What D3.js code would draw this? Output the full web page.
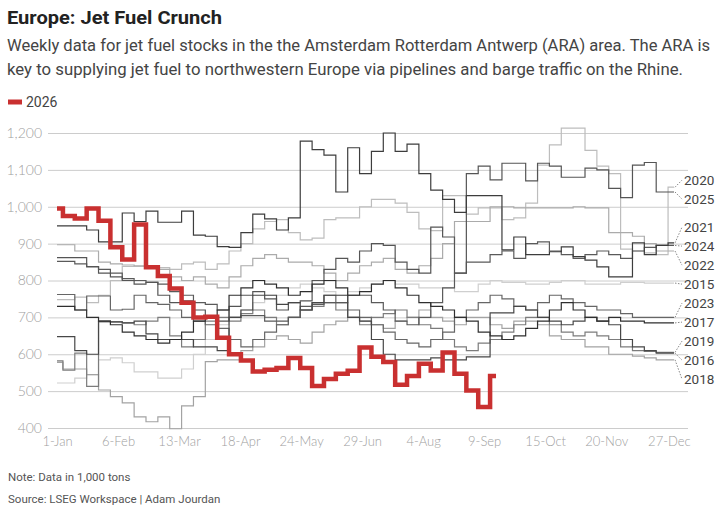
<!DOCTYPE html>
<html>
<head>
<meta charset="utf-8">
<script src="https://cdn.jsdelivr.net/npm/d3@7"></script>
<style>
  body{margin:0;background:#fff;}
  text{font-family:Roboto,"Noto Sans",sans-serif;}
  .tick text{font-family:Lato,"Noto Sans",sans-serif;font-weight:300;}
</style>
</head>
<body>
<svg id="chart" width="728" height="515"></svg>
<script>
"use strict";

// weekly ARA jet fuel stocks, 1,000 tons, one value per week from 1-Jan
const years = ["2015","2016","2017","2018","2019","2020","2021","2022","2023","2024","2025"]
const v2015 = [522,522,535,545,585,590,577,552,552,535,535,560,600,640,680,700,720,740,760,760,780,790,780,770,760,770,780,790,800,790,790,780,780,780,770,770,790,800,795,795,790,790,795,800,800,790,790,790,795,795,793,793,793]
const v2016 = [648,648,610,600,690,688,685,690,655,640,640,640,620,620,610,700,720,760,760,735,740,720,740,760,760,700,690,640,600,585,585,585,590,585,585,593,593,712,712,730,720,700,690,680,690,700,690,680,640,620,610,603,603]
const v2017 = [730,730,720,700,690,680,660,650,640,630,640,660,690,700,720,760,780,800,790,780,760,770,790,800,780,760,770,790,800,780,760,740,730,720,700,690,660,650,640,650,670,690,720,740,720,700,690,700,690,690,685,685,685]
const v2018 = [578,560,560,545,503,485,468,430,417,430,398,460,485,580,585,585,610,620,640,650,640,630,660,680,690,700,690,680,670,690,700,720,700,690,680,700,700,680,670,690,690,680,650,640,640,620,620,600,600,595,590,585,585]
const v2019 = [582,557,603,513,688,688,685,680,690,700,650,620,640,690,700,690,710,720,700,680,700,720,730,740,720,700,680,700,710,720,700,680,670,640,620,610,630,640,660,680,700,700,680,660,650,660,650,640,620,610,608,605,605]
const v2020 = [748,748,755,740,760,800,838,838,838,835,830,845,850,830,845,880,900,940,960,965,930,910,915,965,970,970,1000,1020,1020,1010,985,940,935,1030,1030,980,997,997,965,970,1010,1113,1168,1213,1213,1153,1110,1090,885,880,875,870,1053]
const v2021 = [948,948,948,937,905,905,983,960,988,958,958,988,923,920,892,890,930,980,967,937,970,1178,1155,1140,1040,1160,1090,1150,1200,1150,1170,1090,1045,1020,985,1030,1030,1030,883,918,870,870,878,891,865,855,837,810,810,902,870,895,902]
const v2022 = [897,897,880,880,850,845,842,840,835,830,810,800,810,790,780,810,840,860,870,860,850,850,840,820,800,820,840,850,860,830,820,840,860,900,960,960,960,1000,1000,997,997,997,997,997,1000,997,997,930,930,920,900,880,880]
const v2023 = [762,762,720,758,758,720,722,760,740,735,720,700,690,680,670,640,620,640,660,680,700,720,740,760,740,720,700,680,660,640,630,620,640,660,700,720,740,760,750,730,720,740,760,750,740,730,720,720,710,700,700,700,700]
const v2024 = [852,852,845,838,830,820,805,800,795,790,770,760,740,735,720,700,705,705,690,690,700,730,735,740,740,760,760,740,720,690,680,700,740,780,820,850,850,870,880,860,900,905,880,870,860,870,880,870,860,880,890,895,895]
const v2025 = [862,862,862,837,820,810,800,790,795,760,740,745,720,700,690,730,760,770,750,720,740,745,800,830,860,850,880,900,895,850,830,820,945,918,820,1090,1110,1073,1118,1118,1070,1118,1110,1080,1080,1105,1100,1050,1025,1113,1120,1040,1040]
const v2026 = [995,975,968,995,962,890,857,952,836,812,778,740,700,702,645,600,583,553,558,563,590,563,514,533,547,555,618,593,579,517,541,574,556,605,547,502,457,541]

const yTicks = [400,500,600,700,800,900,1000,1100,1200]
const xTickLabels = ["1-Jan","6-Feb","13-Mar","18-Apr","24-May","29-Jun","4-Aug","9-Sep","15-Oct","20-Nov","27-Dec"]

const pastValues = [v2015,v2016,v2017,v2018,v2019,v2020,v2021,v2022,v2023,v2024,v2025]
const lineColors = ["#cfcfcf","#474747","#2f2f2f","#a3a3a3","#7c7c7c","#bdbdbd","#3d3d3d","#ababab","#666666","#5a5a5a","#555555"]
const redColor = "#c93030"

const svg = d3.select("#chart")
const plotLeft = 57, plotRight = 674, plotTop = 133, plotBottom = 428

// a leap year so the 36-day tick labels land on their dates
const weekStart = new Date(2024, 0, 1)
const weekDate = i => d3.timeDay.offset(weekStart, 7*i)
const parseTick = d3.timeParse("%d-%b-%Y")

const x = d3.scaleTime()
  .domain([weekStart, weekDate(52)])
  .range([plotLeft, plotRight])
const y = d3.scaleLinear()
  .domain([400, 1200])
  .range([plotBottom, plotTop])

// titles
svg.append("text")
  .attr("x", 7).attr("y", 24)
  .attr("font-size", 19).attr("font-weight", 700).attr("fill", "#222")
  .attr("textLength", 215).attr("lengthAdjust", "spacingAndGlyphs")
  .text("Europe: Jet Fuel Crunch")
const subtitle = ["Weekly data for jet fuel stocks in the the Amsterdam Rotterdam Antwerp (ARA) area. The ARA is",
                  "key to supplying jet fuel to northwestern Europe via pipelines and barge traffic on the Rhine."]
const subWidths = [703, 676]
svg.selectAll(".subtitle").data(subtitle).enter()
  .append("text")
  .attr("class", "subtitle")
  .attr("x", 7).attr("y", (d,i) => 51 + i*24)
  .attr("font-size", 16.5).attr("fill", "#444")
  .attr("textLength", (d,i) => subWidths[i]).attr("lengthAdjust", "spacingAndGlyphs")
  .text(d => d)

// legend
svg.append("line")
  .attr("x1", 8).attr("x2", 22).attr("y1", 102).attr("y2", 102)
  .attr("stroke", redColor).attr("stroke-width", 5)
svg.append("text")
  .attr("x", 26).attr("y", 107)
  .attr("font-size", 14).attr("fill", "#444")
  .text("2026")

// y axis with gridlines
const yAxis = svg.append("g")
  .attr("transform", "translate(48,0)")
  .call(d3.axisLeft(y).tickValues(yTicks).tickFormat(d3.format(",")).tickSize(-(688-48)).tickPadding(6))
yAxis.select(".domain").remove()
yAxis.selectAll(".tick line").attr("stroke", "#cccccc")
yAxis.selectAll(".tick text").attr("fill", "#a0a0a0").attr("font-size", 14)

// x axis labels only
const xAxis = svg.append("g")
  .attr("transform", "translate(0," + plotBottom + ")")
  .call(d3.axisBottom(x)
    .tickValues(xTickLabels.map(s => parseTick(s + "-2024")))
    .tickFormat((d,i) => xTickLabels[i])
    .tickSize(0).tickPadding(9))
xAxis.select(".domain").remove()
xAxis.selectAll(".tick text").attr("fill", "#a0a0a0").attr("font-size", 13)

const line = d3.line()
  .x((d,i) => x(weekDate(i)))
  .y(d => y(d))
  .curve(d3.curveStep)

// draw lighter years underneath the darker ones
const order = d3.range(years.length).sort((a,b) => d3.hsl(lineColors[b]).l - d3.hsl(lineColors[a]).l)
svg.append("g").selectAll("path").data(order).enter()
  .append("path")
  .attr("d", i => line(pastValues[i]))
  .attr("fill", "none")
  .attr("stroke", i => lineColors[i])
  .attr("stroke-width", 1.2)

svg.append("path")
  .attr("d", line(v2026))
  .attr("fill", "none")
  .attr("stroke", redColor)
  .attr("stroke-width", 4.5)
  .attr("stroke-linejoin", "miter")

// end labels, spread so they do not overlap
const gap = 19
let labels = years.map((yr,i) => {
  let last = pastValues[i].length - 1
  return {year: yr, ex: x(weekDate(last)), ey: y(pastValues[i][last])}
}).sort((a,b) => a.ey - b.ey)

let clusters = []
labels.forEach(d => {
  clusters.push({items: [d], sum: d.ey})
  while(clusters.length > 1){
    let c = clusters[clusters.length-1], p = clusters[clusters.length-2]
    let cTop = c.sum/c.items.length - (c.items.length-1)*gap/2
    let pBottom = p.sum/p.items.length + (p.items.length-1)*gap/2
    if(cTop - pBottom < gap){
      clusters.pop()
      p.items = p.items.concat(c.items)
      p.sum += c.sum
    } else break
  }
})
clusters.forEach(c => {
  let start = c.sum/c.items.length - (c.items.length-1)*gap/2
  c.items.forEach((d,k) => d.ly = start + k*gap)
})

const labelG = svg.append("g")
labelG.selectAll("line").data(labels).enter()
  .append("line")
  .attr("x1", d => d.ex + 1).attr("y1", d => d.ey)
  .attr("x2", 682).attr("y2", d => d.ly)
  .attr("stroke", "#888").attr("stroke-width", 1)
  .attr("stroke-dasharray", "1.5,1.5")
labelG.selectAll("text").data(labels).enter()
  .append("text")
  .attr("x", 684).attr("y", d => d.ly)
  .attr("dy", "0.35em")
  .attr("font-size", 13.5).attr("fill", "#444")
  .attr("font-family", "Lato, 'Noto Sans', sans-serif")
  .text(d => d.year)

// footnotes
const notes = ["Note: Data in 1,000 tons", "Source: LSEG Workspace | Adam Jourdan"]
svg.selectAll(".note").data(notes).enter()
  .append("text")
  .attr("class", "note")
  .attr("x", 8).attr("y", (d,i) => 481 + i*22)
  .attr("font-size", 11.5).attr("fill", "#555")
  .text(d => d)
</script>
</body>
</html>
